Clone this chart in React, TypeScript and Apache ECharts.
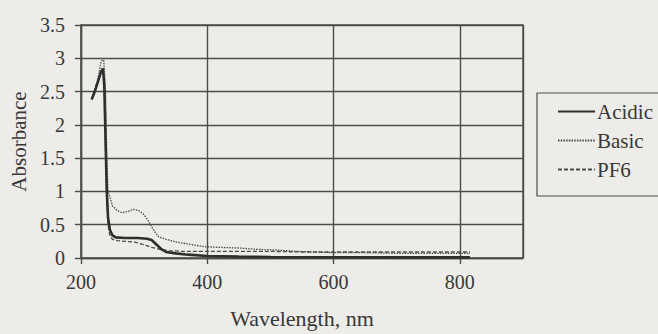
import React, { useEffect, useRef } from "react";
import * as echarts from "echarts";

// Acidic (thick solid)
const acidicWl = [217, 222, 228, 232, 235, 237, 239, 241, 243, 246, 250, 255, 270, 290, 305, 312, 320, 328, 335, 350, 370, 400, 450, 500, 600, 700, 816];
const acidicAbs = [2.38, 2.5, 2.68, 2.8, 2.85, 2.6, 1.8, 1.0, 0.6, 0.42, 0.34, 0.31, 0.3, 0.3, 0.29, 0.27, 0.2, 0.13, 0.09, 0.07, 0.05, 0.03, 0.02, 0.015, 0.012, 0.01, 0.01];

// Basic (dotted)
const basicWl = [219, 225, 232, 236, 239, 241, 243, 246, 250, 258, 265, 275, 283, 292, 299, 306, 312, 318, 323, 335, 351, 370, 395, 420, 450, 480, 510, 540, 570, 600, 650, 700, 760, 816];
const basicAbs = [2.45, 2.6, 2.95, 3.0, 2.5, 1.5, 1.0, 0.92, 0.78, 0.71, 0.68, 0.7, 0.73, 0.71, 0.66, 0.57, 0.47, 0.38, 0.32, 0.28, 0.24, 0.21, 0.17, 0.16, 0.15, 0.13, 0.12, 0.1, 0.09, 0.08, 0.08, 0.07, 0.07, 0.07];

// PF6 (dashed)
const pf6Wl = [218, 224, 230, 234, 237, 239, 241, 243, 246, 250, 258, 270, 285, 300, 312, 325, 340, 360, 400, 450, 500, 550, 600, 700, 816];
const pf6Abs = [2.4, 2.6, 2.75, 2.82, 2.7, 1.6, 0.9, 0.5, 0.33, 0.28, 0.26, 0.25, 0.24, 0.2, 0.16, 0.13, 0.11, 0.1, 0.1, 0.1, 0.1, 0.09, 0.09, 0.09, 0.09];

const xTicks = { min: 200, max: 900, interval: 200 };
const yTicks = { min: 0, max: 3.5, interval: 0.5 };

const zip = (xs: number[], ys: number[]) => xs.map((x, i) => [x, ys[i]]);

const FONT = "Liberation Serif";
const INK = "#383838";
const GRID = "#4c4c4c";

export default function App() {
  const ref = useRef<HTMLDivElement>(null);
  useEffect(() => {
    if (!ref.current) return;
    const chart = echarts.init(ref.current, null, { renderer: "svg" });
    const txt = { fontFamily: FONT, fontSize: 20, color: INK };
    chart.setOption({
      animation: false,
      backgroundColor: "#eeece8",
      textStyle: { fontFamily: FONT },
      grid: {
        left: 79,
        top: 25,
        right: 135,
        bottom: 76,
        show: true,
        borderColor: GRID,
        borderWidth: 1.4,
        backgroundColor: "transparent",
      },
      legend: {
        orient: "vertical",
        left: 537,
        top: 93,
        padding: [8, 20, 16, 20],
        itemGap: 8,
        itemWidth: 37,
        itemHeight: 14,
        borderColor: GRID,
        borderWidth: 1.2,
        itemStyle: { opacity: 0 },
        textStyle: { ...txt, fontSize: 21, padding: [0, 0, 0, -3] },
        data: ["Acidic", "Basic", "PF6"],
      },
      xAxis: {
        type: "value",
        min: xTicks.min,
        max: xTicks.max,
        interval: xTicks.interval,
        name: "Wavelength, nm",
        nameLocation: "middle",
        nameGap: 49,
        nameTextStyle: { ...txt, fontSize: 22 },
        axisLine: { show: true, lineStyle: { color: GRID, width: 1.4 } },
        axisTick: { show: true, length: 6, lineStyle: { color: GRID, width: 1.4 } },
        axisLabel: { showMaxLabel: false, margin: 14, ...txt },
        splitLine: { show: true, lineStyle: { color: GRID, width: 1.4 } },
      },
      yAxis: {
        type: "value",
        min: yTicks.min,
        max: yTicks.max,
        interval: yTicks.interval,
        name: "Absorbance",
        nameLocation: "middle",
        nameGap: 51,
        nameTextStyle: { ...txt, fontSize: 21 },
        axisLine: { show: true, lineStyle: { color: GRID, width: 1.4 } },
        axisTick: { show: true, length: 6, lineStyle: { color: GRID, width: 1.4 } },
        axisLabel: { margin: 16, ...txt },
        splitLine: { show: true, lineStyle: { color: GRID, width: 1.4 } },
      },
      series: [
        {
          name: "Acidic",
          type: "line",
          data: zip(acidicWl, acidicAbs),
          symbol: "none",
          lineStyle: { color: "#2e2e2e", width: 2.6, type: "solid" },
          itemStyle: { color: "#2e2e2e" },
          z: 5,
        },
        {
          name: "Basic",
          type: "line",
          data: zip(basicWl, basicAbs),
          symbol: "none",
          lineStyle: { color: "#4a4a4a", width: 1.3, type: [1.5, 1.2] },
          itemStyle: { color: "#4a4a4a" },
          z: 4,
        },
        {
          name: "PF6",
          type: "line",
          data: zip(pf6Wl, pf6Abs),
          symbol: "none",
          lineStyle: { color: "#4a4a4a", width: 1.3, type: [4, 2] },
          itemStyle: { color: "#4a4a4a" },
          z: 4,
        },
      ],
    });
    return () => chart.dispose();
  }, []);
  return (
    <div
      ref={ref}
      style={{ position: "absolute", left: 0, top: 0, width: 658, height: 334 }}
    />
  );
}
